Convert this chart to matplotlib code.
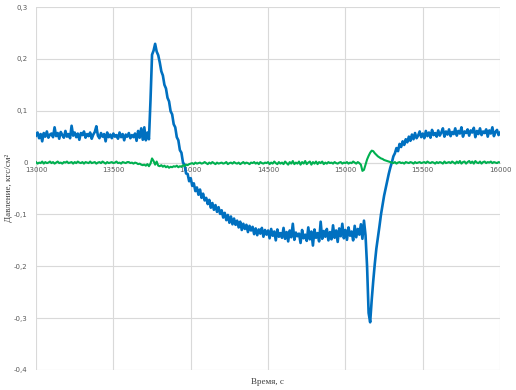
import numpy as np
import matplotlib.pyplot as plt

# Время, с (шаг 10 с)
t = np.arange(13000, 16001, 10)

# Давление, кгс/см2 - синяя кривая
p_blue = [
    0.052, 0.058, 0.047, 0.055, 0.041, 0.057, 0.050, 0.060, 0.048, 0.054,
    0.056, 0.049, 0.068, 0.051, 0.057, 0.046, 0.059, 0.053, 0.048, 0.061,
    0.050, 0.055, 0.047, 0.071, 0.052, 0.058, 0.049, 0.056, 0.044, 0.057,
    0.053, 0.060, 0.048, 0.055, 0.051, 0.058, 0.046, 0.054, 0.059, 0.070,
    0.052, 0.047, 0.057, 0.050, 0.055, 0.041, 0.058, 0.049, 0.054, 0.047,
    0.056, 0.050, 0.053, 0.046, 0.058, 0.049, 0.055, 0.043, 0.054, 0.050,
    0.057, 0.047, 0.053, 0.049, 0.056, 0.042, 0.061, 0.048, 0.066, 0.044,
    0.068, 0.043, 0.058, 0.045, 0.120, 0.208, 0.216, 0.229, 0.214, 0.207,
    0.193, 0.176, 0.168, 0.150, 0.143, 0.125, 0.118, 0.099, 0.093, 0.074,
    0.068, 0.049, 0.043, 0.024, 0.019, 0.000, -0.004, -0.021, -0.022, -0.036,
    -0.030, -0.045, -0.040, -0.055, -0.048, -0.062, -0.052, -0.068, -0.060, -0.073,
    -0.068, -0.080, -0.072, -0.087, -0.078, -0.091, -0.082, -0.095, -0.086, -0.099,
    -0.092, -0.106, -0.097, -0.111, -0.101, -0.116, -0.104, -0.119, -0.108, -0.120,
    -0.112, -0.125, -0.114, -0.130, -0.118, -0.128, -0.120, -0.134, -0.122, -0.131,
    -0.124, -0.138, -0.127, -0.140, -0.129, -0.137, -0.126, -0.143, -0.130, -0.139,
    -0.131, -0.146, -0.128, -0.141, -0.133, -0.150, -0.129, -0.143, -0.136, -0.145,
    -0.126, -0.147, -0.134, -0.152, -0.131, -0.144, -0.118, -0.149, -0.135, -0.142,
    -0.137, -0.155, -0.130, -0.146, -0.139, -0.151, -0.125, -0.148, -0.133, -0.160,
    -0.129, -0.145, -0.136, -0.152, -0.114, -0.147, -0.132, -0.143, -0.128, -0.150,
    -0.134, -0.148, -0.121, -0.145, -0.131, -0.153, -0.127, -0.142, -0.118, -0.146,
    -0.130, -0.149, -0.125, -0.141, -0.133, -0.150, -0.122, -0.144, -0.128, -0.139,
    -0.119, -0.147, -0.112, -0.140, -0.200, -0.290, -0.308, -0.265, -0.228, -0.195,
    -0.166, -0.145, -0.123, -0.100, -0.082, -0.064, -0.050, -0.036, -0.022, -0.010,
    0.000, 0.012, 0.018, 0.028, 0.022, 0.036, 0.030, 0.041, 0.034, 0.045,
    0.039, 0.050, 0.042, 0.054, 0.045, 0.057, 0.047, 0.052, 0.060, 0.049,
    0.056, 0.047, 0.061, 0.051, 0.058, 0.048, 0.063, 0.053, 0.057, 0.050,
    0.062, 0.052, 0.058, 0.066, 0.050, 0.060, 0.054, 0.064, 0.051, 0.059,
    0.055, 0.066, 0.052, 0.061, 0.056, 0.068, 0.050, 0.060, 0.057, 0.064,
    0.052, 0.062, 0.058, 0.067, 0.049, 0.061, 0.055, 0.066, 0.053, 0.060,
    0.057, 0.064, 0.050, 0.062, 0.056, 0.068, 0.051, 0.059, 0.063, 0.053,
    0.058,
]

# зелёная кривая
p_green = [
    0.001, -0.002, 0.000, -0.001, 0.002, -0.002, 0.001, -0.001, 0.000, 0.002,
    -0.001, 0.001, -0.002, 0.000, 0.002, -0.001, 0.000, -0.002, 0.001, 0.000,
    0.002, -0.001, 0.000, 0.001, -0.002, 0.001, -0.001, 0.002, 0.000, -0.001,
    0.001, -0.002, 0.001, 0.000, -0.001, 0.002, -0.001, 0.000, 0.001, -0.002,
    0.000, 0.001, -0.001, 0.002, 0.000, -0.002, 0.001, -0.001, 0.000, 0.001,
    -0.001, 0.000, 0.002, -0.001, 0.000, -0.002, 0.001, 0.000, -0.001, 0.001,
    0.001, -0.001, 0.000, -0.002, 0.000, -0.001, -0.003, -0.002, -0.004, -0.005,
    -0.004, -0.006, -0.003, -0.007, -0.002, 0.008, 0.003, -0.004, 0.002, -0.006,
    -0.007, -0.005, -0.008, -0.006, -0.009, -0.007, -0.010, -0.008, -0.009, -0.007,
    -0.008, -0.006, -0.009, -0.007, -0.008, -0.005, -0.007, -0.004, -0.005, -0.003,
    -0.002, -0.001, -0.003, 0.000, -0.002, -0.001, 0.000, -0.002, -0.001, 0.001,
    -0.001, -0.003, 0.000, -0.002, 0.001, -0.001, -0.003, 0.000, -0.002, -0.001,
    0.000, -0.002, -0.001, 0.001, -0.003, -0.001, 0.000, -0.002, 0.001, -0.001,
    -0.002, 0.000, -0.003, -0.001, 0.001, -0.002, 0.000, -0.001, -0.003, 0.000,
    -0.001, 0.001, -0.002, 0.000, -0.003, 0.001, -0.001, -0.002, 0.000, -0.001,
    0.001, -0.003, 0.000, -0.002, 0.002, -0.001, -0.003, 0.001, -0.002, 0.000,
    -0.003, 0.002, -0.001, -0.004, 0.001, -0.002, 0.003, -0.003, 0.000, -0.002,
    0.002, -0.004, 0.001, -0.002, 0.003, -0.003, 0.000, 0.002, -0.004, 0.001,
    -0.002, 0.002, -0.003, 0.001, -0.001, 0.002, -0.003, 0.000, -0.002, 0.001,
    -0.001, 0.000, -0.002, 0.001, -0.001, -0.002, 0.000, 0.001, -0.002, 0.000,
    -0.001, 0.001, -0.002, 0.000, -0.001, 0.002, 0.000, -0.002, 0.001, -0.001,
    -0.004, -0.016, -0.014, -0.004, 0.006, 0.013, 0.019, 0.023, 0.022, 0.018,
    0.015, 0.012, 0.010, 0.008, 0.007, 0.005, 0.004, 0.003, 0.002, 0.001,
    0.000, -0.001, 0.001, -0.002, 0.000, 0.001, -0.001, 0.000, -0.002, 0.001,
    0.000, -0.001, 0.001, 0.000, -0.002, 0.001, -0.001, 0.000, 0.001, -0.001,
    0.000, 0.001, -0.001, 0.002, 0.000, -0.001, 0.001, 0.000, -0.002, 0.001,
    -0.001, 0.001, 0.000, -0.002, 0.002, -0.001, 0.000, 0.001, -0.001, 0.002,
    0.000, -0.002, 0.002, -0.001, 0.003, -0.002, 0.001, 0.002, -0.002, 0.001,
    0.003, -0.001, 0.002, -0.002, 0.003, 0.000, -0.001, 0.002, -0.002, 0.001,
    0.002, -0.001, 0.001, 0.000, 0.002, -0.001, 0.001, 0.000, -0.001, 0.001,
    0.000,
]

x_ticks = [13000, 13500, 14000, 14500, 15000, 15500, 16000]
y_ticks = [-0.4, -0.3, -0.2, -0.1, 0, 0.1, 0.2, 0.3]
y_labels = ['-0,4', '-0,3', '-0,2', '-0,1', '0', '0,1', '0,2', '0,3']

fig = plt.figure(figsize=(5.16, 3.9), dpi=100)
ax = fig.add_axes([0.0698, 0.0513, 0.8994, 0.9307])

ax.plot(t, p_blue, color='#0070C0', linewidth=1.9, zorder=3)
ax.plot(t, p_green, color='#00B050', linewidth=1.5, zorder=4)

ax.set_xlim(13000, 16000)
ax.set_ylim(-0.4, 0.3)
ax.set_xticks(x_ticks)
ax.set_yticks(y_ticks)
ax.set_yticklabels(y_labels)
ax.grid(True, color='#d9d9d9', linewidth=0.8)
ax.set_axisbelow(True)

# ось X проходит через ноль
for s in ['top', 'right', 'left']:
    ax.spines[s].set_visible(False)
ax.spines['bottom'].set_position(('data', 0))
ax.spines['bottom'].set_color('#d9d9d9')
ax.spines['bottom'].set_linewidth(0.8)
ax.tick_params(axis='both', length=0, labelsize=5, labelcolor='#595959')
ax.tick_params(axis='x', pad=3)
ax.tick_params(axis='y', pad=6)

fig.text(0.519, 0.02, 'Время, с', ha='center', va='center',
         fontsize=6.5, family='Liberation Serif', color='#404040')
fig.text(0.018, 0.517, 'Давление, кгс/см²', ha='center', va='center',
         rotation=90, fontsize=6.5, family='Liberation Serif', color='#404040')

fig.savefig('out.png', dpi=100)
